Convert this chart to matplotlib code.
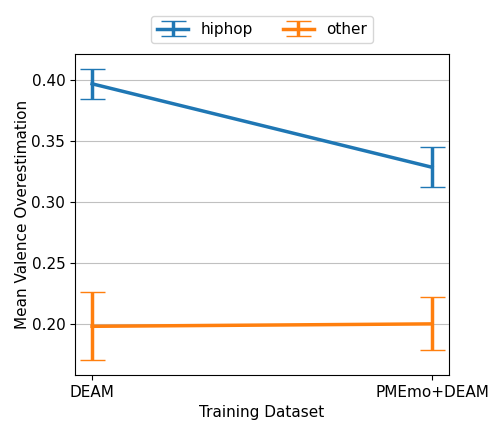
import matplotlib
matplotlib.use("Agg")
import matplotlib.pyplot as plt

datasets = ["DEAM", "PMEmo+DEAM"]
hiphop_mean = [0.397, 0.3284]
hiphop_err = [0.0125, 0.0165]
other_mean = [0.1977, 0.1997]
other_err = [0.028, 0.0218]

fig = plt.figure(figsize=(5.04, 4.32), dpi=100)
ax = fig.add_axes([0.149, 0.132, 0.742, 0.743])

ax.errorbar(datasets, hiphop_mean, yerr=hiphop_err, capsize=9, capthick=1, lw=2.5, label="hiphop")
ax.errorbar(datasets, other_mean, yerr=other_err, capsize=9, capthick=1, lw=2.5, label="other")

ax.grid(axis="y", color="#c0c0c0", lw=0.8)
ax.set_axisbelow(True)
ax.tick_params(labelsize=11)
ax.set_xlabel("Training Dataset", fontsize=11)
ax.set_ylabel("Mean Valence Overestimation", fontsize=11, labelpad=1)
ax.legend(loc="lower center", bbox_to_anchor=(0.5, 1.01), ncol=2, fontsize=11)

plt.savefig("out.png")
